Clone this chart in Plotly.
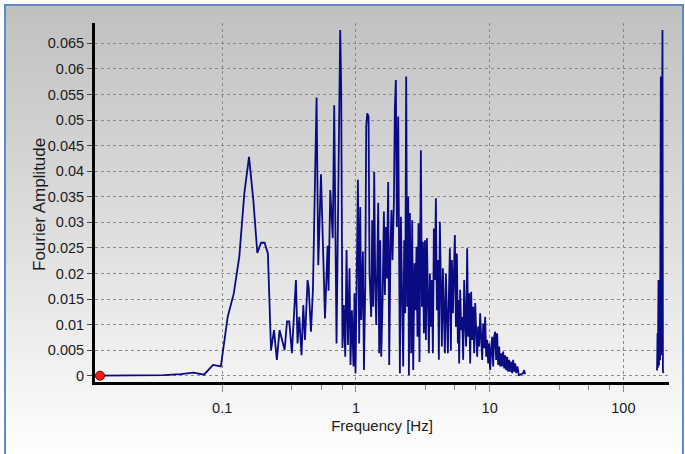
import base64
import plotly.graph_objects as go

# ---------------- data ----------------
low_freq = [0.0122, 0.0244, 0.0366, 0.0488, 0.0610, 0.0732, 0.0854, 0.0977, 0.1099,
            0.1221, 0.1343, 0.1465, 0.1587, 0.1709, 0.1831, 0.1953, 0.2075, 0.2197,
            0.2319, 0.2441, 0.2563, 0.2686, 0.2808, 0.2930, 0.3052, 0.3174, 0.332]
low_amp = [0.0000, 0.0000, 0.0001, 0.0003, 0.0006, 0.0002, 0.0021, 0.0018, 0.0115,
           0.0161, 0.0233, 0.0357, 0.0428, 0.0344, 0.0240, 0.0260, 0.0260, 0.0239,
           0.0050, 0.0089, 0.0031, 0.0089, 0.0070, 0.0050, 0.0106, 0.0106, 0.0044]

mid_freq = [0.356, 0.366, 0.377, 0.392, 0.404, 0.416, 0.435, 0.443, 0.461, 0.477,
            0.508, 0.523, 0.548, 0.587, 0.614, 0.624, 0.643, 0.671, 0.688, 0.716,
            0.742, 0.763, 0.776, 0.793, 0.812, 0.832, 0.851, 0.871, 0.896, 0.911,
            0.933, 0.959, 0.976, 0.993, 1.010, 1.035, 1.058, 1.077, 1.096, 1.128,
            1.148, 1.174, 1.194, 1.215, 1.243, 1.264, 1.301, 1.324, 1.347, 1.370,
            1.394, 1.418, 1.443, 1.468, 1.493, 1.519, 1.546, 1.581, 1.619, 1.647,
            1.675, 1.704, 1.743, 1.774, 1.814, 1.845, 1.877, 1.923, 1.955, 1.989,
            2.024, 2.071, 2.132, 2.169, 2.218, 2.257, 2.296, 2.336, 2.376, 2.418,
            2.460, 2.490, 2.533, 2.590, 2.635, 2.681, 2.741, 2.789, 2.837, 2.886,
            2.936, 2.987, 3.060, 3.114, 3.168, 3.223, 3.279, 3.336, 3.394, 3.452,
            3.512, 3.573, 3.635, 3.698, 3.762, 3.827, 3.894, 3.961, 4.030, 4.100,
            4.171, 4.243, 4.317, 4.392, 4.468, 4.546, 4.625, 4.705, 4.787, 4.870,
            4.955, 5.041, 5.128, 5.218, 5.308, 5.401, 5.494, 5.590, 5.687, 5.786]
mid_amp = [0.0187, 0.0063, 0.0115, 0.0040, 0.0138, 0.0070, 0.0187, 0.0174, 0.0086, 0.0168,
           0.0544, 0.0216, 0.0394, 0.0112, 0.0254, 0.0166, 0.0363, 0.0269, 0.0529, 0.0063,
           0.0494, 0.0676, 0.0565, 0.0054, 0.0138, 0.0037, 0.0246, 0.0060, 0.0210, 0.0021,
           0.0128, 0.0018, 0.0161, 0.0005, 0.0155, 0.0383, 0.0063, 0.0330, 0.0109, 0.0243,
           0.0011, 0.0174, 0.0487, 0.0513, 0.0507, 0.0200, 0.0115, 0.0304, 0.0135, 0.0399,
           0.0187, 0.0099, 0.0213, 0.0338, 0.0044, 0.0265, 0.0037, 0.0142, 0.0321, 0.0158,
           0.0291, 0.0190, 0.0379, 0.0021, 0.0259, 0.0324, 0.0226, 0.0340, 0.0523, 0.0578,
           0.0291, 0.0507, 0.0005, 0.0311, 0.0142, 0.0018, 0.0265, 0.0122, 0.0585, 0.0135,
           0.0350, 0.0001, 0.0318, 0.0044, 0.0304, 0.0011, 0.0220, 0.0128, 0.0252, 0.0076,
           0.0298, 0.0027, 0.0441, 0.0135, 0.0262, 0.0083, 0.0265, 0.0070, 0.0269, 0.0122,
           0.0044, 0.0200, 0.0096, 0.0187, 0.0044, 0.0288, 0.0187, 0.0347, 0.0128, 0.0226,
           0.0031, 0.0301, 0.0128, 0.0057, 0.0210, 0.0102, 0.0044, 0.0200, 0.0122, 0.0044,
           0.0155, 0.0249, 0.0050, 0.0226, 0.0122, 0.0200, 0.0275, 0.0096, 0.0239, 0.0063]

high_freq = [5.816, 5.917, 6.019, 6.124, 6.230, 6.338, 6.448, 6.560, 6.674, 6.790,
             6.908, 7.028, 7.150, 7.274, 7.400, 7.529, 7.659, 7.792, 7.928, 8.065,
             8.205, 8.348, 8.493, 8.640, 8.790, 8.943, 9.098, 9.256, 9.417, 9.580,
             9.747, 9.916, 10.088, 10.263, 10.441, 10.622, 10.807, 10.994, 11.185, 11.379,
             11.577, 11.778, 11.982, 12.190, 12.402, 12.617, 12.836, 13.059, 13.286, 13.516,
             13.751, 13.989, 14.232, 14.479, 14.730, 14.986, 15.246, 15.511, 15.780, 16.14,
             16.52, 17.0, 17.8, 18.1, 18.4]
high_amp = [0.0148, 0.0024, 0.0168, 0.0089, 0.0115, 0.0031, 0.0187, 0.0102, 0.0057, 0.0249,
            0.0076, 0.0161, 0.0024, 0.0164, 0.0070, 0.0135, 0.0044, 0.0142, 0.0083, 0.0037,
            0.0096, 0.0057, 0.0122, 0.0070, 0.0031, 0.0102, 0.0054, 0.0115, 0.0037, 0.0070,
            0.0024, 0.0063, 0.0011, 0.0050, 0.0076, 0.0018, 0.0076, 0.0086, 0.0031, 0.0083,
            0.0021, 0.0057, 0.0018, 0.0044, 0.0018, 0.0047, 0.0014, 0.0040, 0.0011, 0.0037,
            0.0008, 0.0031, 0.0008, 0.0027, 0.0005, 0.0031, 0.0008, 0.0024, 0.0005, 0.0018,
            0.0001, 0.0002, 0.0005, 0.0011, 0.0003]

spike_freq = [178.5, 180.0, 181.0, 183.0, 184.5, 186.5, 188.0, 190.5, 192.0, 194.0,
              196.0, 197.5, 199.0]
spike_amp = [0.0010, 0.0083, 0.0015, 0.0187, 0.0020, 0.0180, 0.0030, 0.0585, 0.0040, 0.0585,
             0.0676, 0.0010, 0.0005]

selected_freq = [0.0122]
selected_amp = [0.0]

y_ticks = [0, 0.005, 0.01, 0.015, 0.02, 0.025, 0.03, 0.035, 0.04, 0.045, 0.05, 0.055, 0.06, 0.065]
x_ticks = [0.1, 1, 10, 100]
x_tick_text = ["0.1", "1", "10", "100"]
x_minor_ticks = [0.33, 0.55, 0.79, 3.3, 5.5, 7.9, 33, 55, 79]

# ---------------- figure ----------------
freq = low_freq + mid_freq + high_freq + [None] + spike_freq
amp = low_amp + mid_amp + high_amp + [None] + spike_amp

W, H = 685, 454
L, R, T, B = 95, 16, 23, 72
pw, ph = W - L - R, H - T - B


def px_x(p):
    return (p - L) / pw


def px_y(p):
    return (H - B - p) / ph


fig = go.Figure()
fig.add_trace(go.Scatter(x=freq, y=amp, mode="lines", connectgaps=False,
                         line=dict(color="#0a0a82", width=1.8), hoverinfo="skip",
                         showlegend=False))
fig.add_trace(go.Scatter(x=selected_freq, y=selected_amp, mode="markers",
                         marker=dict(color="#ff1a1a", size=9, line=dict(color="#600000", width=1)),
                         showlegend=False, cliponaxis=False))

svg = ('<svg xmlns="http://www.w3.org/2000/svg" width="10" height="100" preserveAspectRatio="none">'
       '<defs><linearGradient id="g" x1="0" y1="0" x2="0" y2="1">'
       '<stop offset="0" stop-color="#c0c0c0"/><stop offset="0.5" stop-color="#dedede"/>'
       '<stop offset="1" stop-color="#ffffff"/></linearGradient></defs>'
       '<rect width="10" height="100" fill="url(#g)"/></svg>')
src = "data:image/svg+xml;base64," + base64.b64encode(svg.encode()).decode()

fig.add_layout_image(dict(source=src, xref="paper", yref="paper",
                          x=px_x(5), y=px_y(5), sizex=px_x(683) - px_x(5),
                          sizey=px_y(5) - px_y(460), xanchor="left", yanchor="top",
                          sizing="stretch", layer="below"))
fig.add_shape(type="rect", xref="paper", yref="paper",
              x0=px_x(5), x1=px_x(683), y0=px_y(462), y1=px_y(5),
              line=dict(color="#5b8bc8", width=2), layer="above")

fig.add_annotation(text="Fourier Amplitude", xref="paper", yref="paper",
                   x=px_x(39), y=px_y(205), textangle=-90, showarrow=False,
                   xanchor="center", yanchor="middle", font=dict(size=17, color="#1a1a1a"))

font = "Liberation Sans, Arial, sans-serif"
fig.update_layout(
    width=W, height=H,
    margin=dict(l=L, r=R, t=T, b=B, pad=0),
    paper_bgcolor="white", plot_bgcolor="rgba(0,0,0,0)",
    font=dict(family=font, size=14.5, color="#1a1a1a"),
    xaxis=dict(type="log", range=[-1.951, 2.341], tickvals=x_ticks, ticktext=x_tick_text,
               showgrid=True, gridcolor="#8a8a8a", griddash="dot", gridwidth=1,
               showline=True, linecolor="black", linewidth=3,
               ticks="outside", ticklen=7, tickcolor="#888888", ticklabelstandoff=4,
               minor=dict(tickvals=x_minor_ticks, ticks="outside", ticklen=5,
                          tickcolor="#888888", showgrid=False),
               zeroline=False,
               title=dict(text="Frequency [Hz]", font=dict(size=15), standoff=6)),
    yaxis=dict(range=[-0.00123, 0.06897], tickvals=y_ticks,
               showgrid=True, gridcolor="#8a8a8a", griddash="dot", gridwidth=1,
               showline=True, linecolor="black", linewidth=3,
               ticks="outside", ticklen=5, tickcolor="#444444",
               zeroline=False),
)

fig.write_html("out.html")
